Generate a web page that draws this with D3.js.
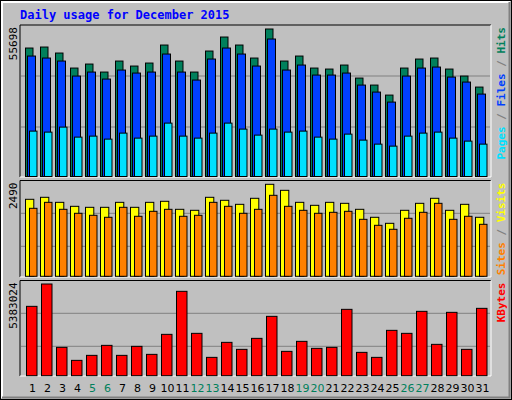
<!DOCTYPE html>
<html><head><meta charset="utf-8">
<script src="https://cdn.jsdelivr.net/npm/d3@7"></script>
<style>body{margin:0;background:#fff}</style>
</head><body><div id="chart"></div>
<script>
const days = d3.range(1, 32);
const weekends = [5, 6, 12, 13, 19, 20, 26, 27];
const hits = [48510,48888,46620,40950,42462,39438,43596,41706,42840,49644,43596,39438,47376,52668,49644,44730,55698,43596,45486,40950,40572,42084,37170,34524,30744,40950,44352,44730,40572,37926,33768];
const files = [45486,44730,43596,37926,39438,36792,40194,39060,39438,46242,39438,36414,44352,48510,46242,41706,51912,40194,42084,38304,38304,39060,34524,31878,28098,37926,40950,41328,37548,35658,31122];
const pages = [17136,16758,18648,14868,15246,14112,16380,14490,15246,20160,15246,14490,16380,20160,17892,15624,17892,16758,17136,14868,14112,16002,13734,12222,11466,15246,16380,16758,14490,13356,12222];
const visits = [2084,2138,2002,1894,1867,1867,2002,1867,2002,2030,1813,1786,2138,2057,1948,2111,2490,2327,2002,1921,2002,1975,1813,1597,1434,1786,1975,2111,1786,1948,1597];
const sites = [1840,2002,1813,1705,1651,1597,1867,1624,1759,1813,1624,1651,2002,1894,1705,1813,2192,1894,1786,1705,1732,1759,1542,1380,1272,1570,1732,1975,1542,1624,1407];
const kbytes = [4071600,5383024,1663900,900450,1194100,1781300,1194100,1722600,1252800,2427300,4952500,2486000,1076600,1957500,1546400,2192400,3484400,1429000,2016200,1605200,1663900,3895400,1370300,1076600,2662200,2486000,3778000,1840100,3719300,1546400,3954200];

const W = 512, H = 400;
const svg = d3.select("#chart").append("svg").attr("width", W).attr("height", H)
  .style("font-family", "'DejaVu Sans Mono', monospace");

// frame
svg.append("rect").attr("x", 0.5).attr("y", 0.5).attr("width", W - 1).attr("height", H - 1)
  .attr("fill", "#c0c0c0").attr("stroke", "#000");
svg.append("path").attr("d", `M2,${H-2}V2H${W-2}`).attr("fill", "none").attr("stroke", "#fff").attr("stroke-width", 2);
svg.append("path").attr("d", `M2,${H-2.5}H${W-2.5}V2`).attr("fill", "none").attr("stroke", "#808080").attr("stroke-width", 2);

svg.append("text").attr("x", 20).attr("y", 19).text("Daily usage for December 2015")
  .attr("fill", "#0000ff").attr("font-weight", "bold").attr("font-size", 12);

const x = d3.scaleBand().domain(days).range([25, 490]).paddingInner(0);

const panels = [
  { top: 25, bottom: 177, base: 176.5, maxY: 29, max: 55698, grid: [127, 76],
    series: [[hits, "#00805c", 0, 7.5], [files, "#0040ff", 2, 10], [pages, "#00e0ff", 4, 11.5]],
    labels: [["Pages", "#00e0ff"], [" / ", "#808080"], ["Files", "#0040ff"], [" / ", "#808080"], ["Hits", "#00805c"]] },
  { top: 180.5, bottom: 277, base: 276.3, maxY: 184.3, max: 2490, grid: [246.3, 213.3],
    series: [[visits, "#ffff00", 0, 8.3], [sites, "#ff8000", 4, 11.5]],
    labels: [["Sites", "#ff8000"], [" / ", "#808080"], ["Visits", "#ffff00"]] },
  { top: 280.5, bottom: 376, base: 375.7, maxY: 284, max: 5383024, grid: [346.3, 313.3],
    series: [[kbytes, "#ff0000", 1, 11.5]],
    labels: [["KBytes", "#ff0000"]] }
];

panels.forEach(p => {
  const y = d3.scaleLinear().domain([0, p.max]).range([p.base, p.maxY]);
  const g = svg.append("g");
  g.append("path").attr("d", `M20,${p.bottom}V${p.top}H491`).attr("fill", "none").attr("stroke", "#000");
  g.append("path").attr("d", `M20,${p.bottom}H491V${p.top}`).attr("fill", "none").attr("stroke", "#fff");
  g.selectAll(".grid").data(p.grid).join("line")
    .attr("x1", 21).attr("x2", 490).attr("y1", d => d).attr("y2", d => d)
    .attr("stroke", "#808080");
  p.series.forEach(([vals, color, x0, x1]) => {
    g.selectAll(null).data(days).join("rect")
      .attr("x", d => x(d) + x0 + 0.5)
      .attr("width", x1 - x0)
      .attr("y", (d, i) => y(vals[i]))
      .attr("height", (d, i) => p.base - y(vals[i]))
      .attr("fill", color).attr("stroke", "#000");
  });
  // max label
  svg.append("text").attr("transform", `translate(17,${p.top + 2}) rotate(-90)`)
    .attr("text-anchor", "end").attr("font-size", 11).attr("fill", "#000")
    .text(d3.format("d")(p.max));
  // right legend
  const t = svg.append("text").attr("transform", `translate(505,${p.top + 2}) rotate(-90)`)
    .attr("text-anchor", "end").attr("font-size", 11).attr("font-weight", "bold");
  p.labels.forEach(([s, c]) => t.append("tspan").attr("fill", c).attr("xml:space", "preserve").text(s));
});

svg.selectAll(".day").data(days).join("text")
  .attr("x", d => x(d) + 7.5).attr("y", 392).attr("text-anchor", "middle")
  .attr("font-size", 11).attr("font-family", "'DejaVu Sans', sans-serif")
  .attr("fill", d => weekends.includes(d) ? "#00805c" : "#000")
  .text(d => d);
</script></body></html>
